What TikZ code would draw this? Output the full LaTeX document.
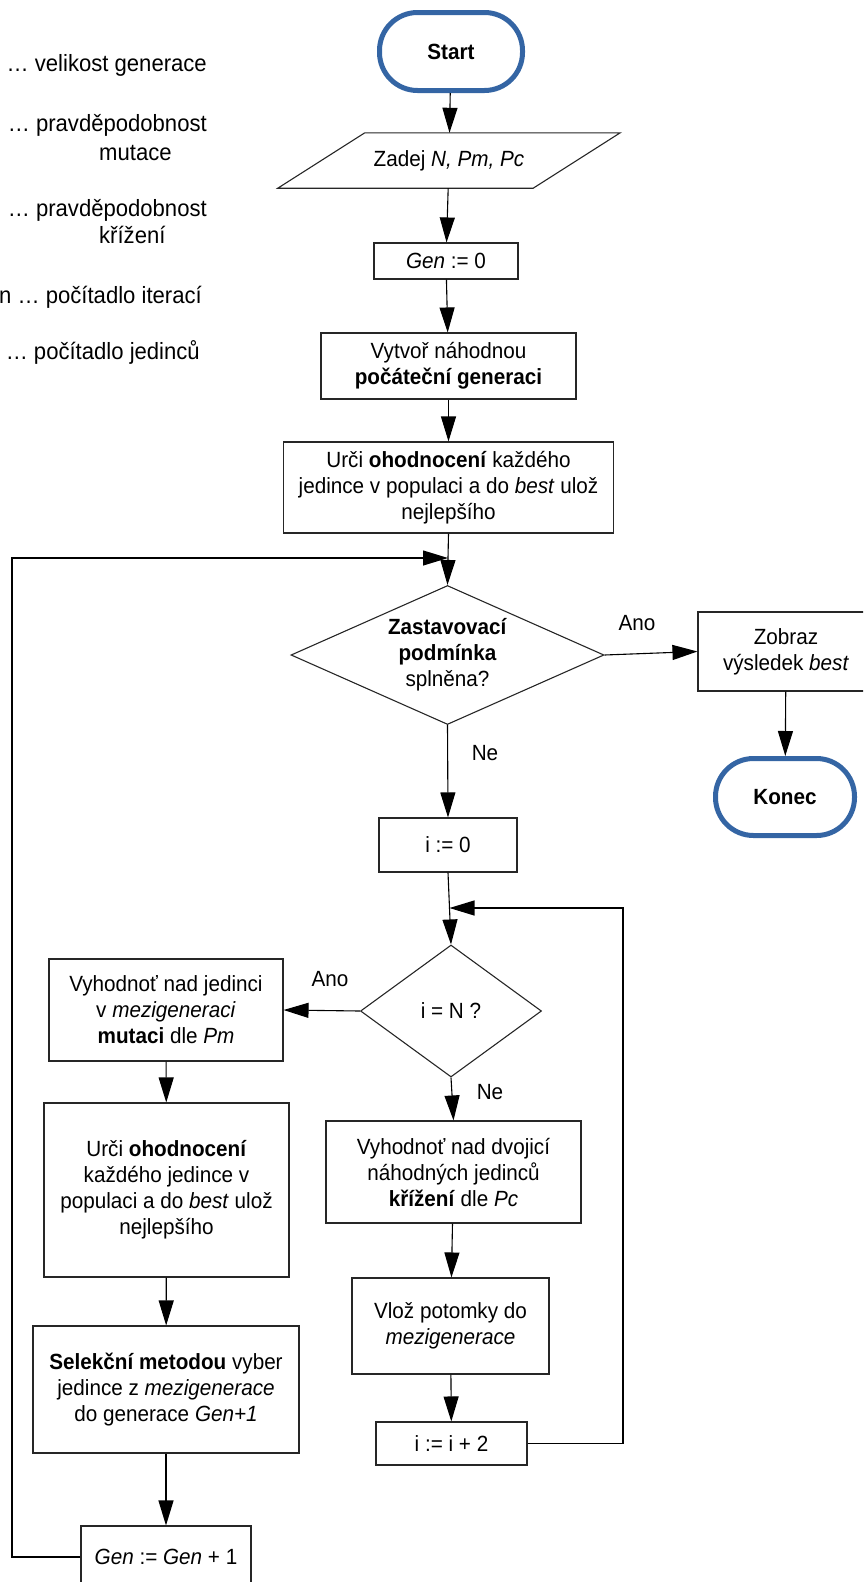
\documentclass[tikz,border=0pt]{standalone}
\usepackage{fontspec}
\setmainfont{Liberation Sans}[FakeStretch=0.94]
\usetikzlibrary{shapes.geometric,arrows.meta}
\definecolor{termblue}{RGB}{52,101,164}
\begin{document}
\begin{tikzpicture}[x=1pt,y=-1pt,
  every node/.style={font=\fontsize{22}{26}\selectfont, align=center, inner sep=0pt},
  legend/.style={font=\fontsize{23.5}{27}\selectfont},
  proc/.style 2 args={rectangle, draw=black!85, line width=1.1pt,
    minimum width=#1, minimum height=#2},
  term/.style 2 args={rectangle, rounded corners=38pt, draw=termblue,
    line width=5pt, minimum width=#1, minimum height=#2,
    font=\fontsize{22}{26}\selectfont\bfseries},
  dec/.style 2 args={diamond, draw=black!85, line width=1.1pt,
    minimum width=#1, minimum height=#2},
  conn/.style={line width=1.1pt},
  arr/.style={conn, -{Triangle[length=25pt,width=15pt]}}
]
\useasboundingbox (0,0) rectangle (863,1582);
\clip (0,0) rectangle (863,1582);

% legend of the variables
\node[legend, anchor=east] (lg1) at (207,65) {… velikost generace};
\node[legend, anchor=east] (lg2) at (207,125) {… pravděpodobnost};
\node[legend, anchor=west] (lg2b) at (99,153) {mutace};
\node[legend, anchor=east] (lg3) at (207,210) {… pravděpodobnost};
\node[legend, anchor=west] (lg3b) at (99,235) {křížení};
\node[legend, anchor=east] (lg4) at (202,297) {n … počítadlo iterací};
\node[legend, anchor=east] (lg5) at (200,352) {… počítadlo jedinců};

% main column
\node[term={143}{78}] (start) at (451,51.5) {Start};
\node[minimum width=255, minimum height=55] (inp) at (449,160.5) {Zadej \textit{N, Pm, Pc}};
\draw[conn, draw=black!85] ([xshift=-43.5pt]inp.south west) -- ([xshift=-43.5pt]inp.south east)
  -- ([xshift=43.5pt]inp.north east) -- ([xshift=43.5pt]inp.north west) -- cycle;
\node[proc={144}{36}] (gen0) at (446,261) {\textit{Gen} := 0};
\node[proc={255}{66}] (init) at (448.5,366) {Vytvoř náhodnou\\\textbf{počáteční generaci}};
\node[proc={330}{91}] (eval1) at (448.5,487.5) {Urči \textbf{ohodnocení} každého\\jedince v populaci a do \textit{best} ulož\\nejlepšího};
\node[dec={313}{139}] (cond1) at (447.5,655) {};
\node (cond1t) at (cond1) {\textbf{Zastavovací}\\\textbf{podmínka}\\splněna?};

\node[proc={176}{79}] (show) at (786,651.5) {Zobraz\\výsledek \textit{best}};
\node[term={139}{77}] (end) at (785,797) {Konec};

\node[proc={138}{54}] (i0) at (448,845) {i := 0};
\node[dec={181}{132}] (cond2) at (451,1011) {};
\node (cond2t) at (cond2) {i = N ?};

% inner loop body
\node[proc={255}{102}] (cross) at (453.5,1172) {Vyhodnoť nad dvojicí\\náhodných jedinců\\\textbf{křížení} dle \textit{Pc}};
\node[proc={197}{96}] (ins) at (450.5,1326) {Vlož potomky do\\\textit{mezigenerace}};
\node[proc={151}{43}] (inc) at (451.5,1443.5) {i := i + 2};

% left column
\node[proc={234}{102}] (mut) at (166,1010) {Vyhodnoť nad jedinci\\v \textit{mezigeneraci}\\\textbf{mutaci} dle \textit{Pm}};
\node[proc={245}{174}] (eval2) at (166.5,1190) {Urči \textbf{ohodnocení}\\každého jedince v\\populaci a do \textit{best} ulož\\nejlepšího};
\node[proc={266}{127}] (sel) at (166,1389.5) {\textbf{Selekční metodou} vyber\\jedince z \textit{mezigenerace}\\do generace \textit{Gen+1}};
\node[proc={170}{62}] (genp) at (166,1557) {\textit{Gen} := \textit{Gen} + 1};

% junction points of the two loops
\coordinate (j1) at (448,558);
\coordinate (lp) at (12,558);
\coordinate (j2) at (449.5,908);
\coordinate (rp) at (623,908);

% connectors
\draw[arr] (start) -- (inp);
\draw[arr] (inp) -- (gen0);
\draw[arr] (gen0) -- (init);
\draw[arr] (init) -- (eval1);
\draw[conn] (eval1.south) -- (j1);
\draw[arr] (j1) -- (cond1.north);
\draw[arr] (genp.west) -| (lp) -- (j1);

\draw[arr] (cond1.east) -- (show.west);
\node (ano1) at (637,623) {Ano};
\draw[arr] (show) -- (end);
\draw[arr] (cond1.south) -- (i0.north);
\node (ne1) at (485,753) {Ne};

\draw[conn] (i0.south) -- (j2);
\draw[arr] (j2) -- (cond2.north);
\draw[arr] (inc.east) -| (rp) -- (j2);

\draw[arr] (cond2.west) -- (mut.east);
\node (ano2) at (330,979) {Ano};
\draw[arr] (cond2.south) -- (cross.north);
\node (ne2) at (490,1092) {Ne};
\draw[arr] (cross) -- (ins);
\draw[arr] (ins) -- (inc);

\draw[arr] (mut) -- (eval2);
\draw[arr] (eval2) -- (sel);
\draw[arr] (sel) -- (genp);
\end{tikzpicture}
\end{document}
